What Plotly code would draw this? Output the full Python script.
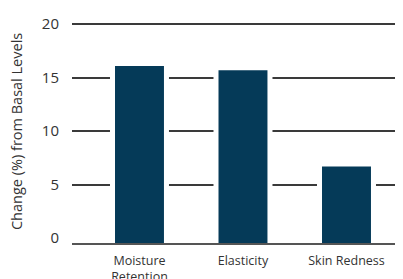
import plotly.graph_objects as go

categories = ["Moisture<br>Retention", "Elasticity", "Skin Redness"]
values = [16.1, 15.7, 6.7]
y_ticks = [0, 5, 10, 15, 20]
y_title = "Change (%) from Basal Levels"

BASE = -0.45  # axis floor sits slightly below zero in the reference
Y_TOP = 20.3
bar_color = "#053a58"
text_color = "#333333"
font_family = "'Open Sans', sans-serif"

fig = go.Figure()
# white backing bars that interrupt the gridlines around each bar
fig.add_trace(go.Bar(
    x=categories, y=[v - BASE for v in values], base=BASE,
    width=0.57, marker=dict(color="white", line=dict(width=0)),
    hoverinfo="skip", showlegend=False,
))
fig.add_trace(go.Bar(
    x=categories, y=[v - BASE for v in values], base=BASE,
    width=0.473, marker=dict(color=bar_color, line=dict(width=0)),
    showlegend=False,
))
# invisible trace so the label axis (y2) is drawn
fig.add_trace(go.Scatter(
    x=categories, y=values, yaxis="y2", mode="markers",
    marker=dict(opacity=0), hoverinfo="skip", showlegend=False,
))

# page body has an 8px margin, so the figure is sized to end at the window edge
fig.update_layout(
    width=395, height=271,
    margin=dict(l=64, r=0, t=13, b=36),
    paper_bgcolor="white", plot_bgcolor="white",
    barmode="overlay",
    font=dict(family=font_family, color=text_color),
    xaxis=dict(
        range=[-0.652, 2.546], automargin=False,
        showgrid=False, zeroline=False,
        showline=True, linecolor="#555555", linewidth=1.5,
        ticks="outside", ticklen=5, tickcolor="rgba(0,0,0,0)",
        tickfont=dict(size=12.5, color=text_color),
    ),
    # gridlines only (no zero gridline; the axis line sits below zero)
    yaxis=dict(
        range=[BASE, Y_TOP], automargin=False,
        tickvals=y_ticks[1:],
        showgrid=True, gridcolor="#3a3a3a", gridwidth=1.5,
        zeroline=False, showline=False, ticks="", showticklabels=False,
    ),
    # tick labels
    yaxis2=dict(
        overlaying="y", side="left", automargin=False,
        range=[BASE, Y_TOP],
        tickvals=y_ticks, ticktext=[str(t) for t in y_ticks],
        showgrid=False, zeroline=False, showline=False,
        ticks="outside", ticklen=9, tickcolor="rgba(0,0,0,0)",
        tickfont=dict(size=15, color=text_color),
    ),
    annotations=[dict(
        text=y_title, textangle=-90, showarrow=False,
        xref="paper", yref="paper", x=-0.169, y=0.5,
        xanchor="center", yanchor="middle",
        font=dict(size=14.5, color=text_color),
    )],
)

fig.write_html("out.html")
